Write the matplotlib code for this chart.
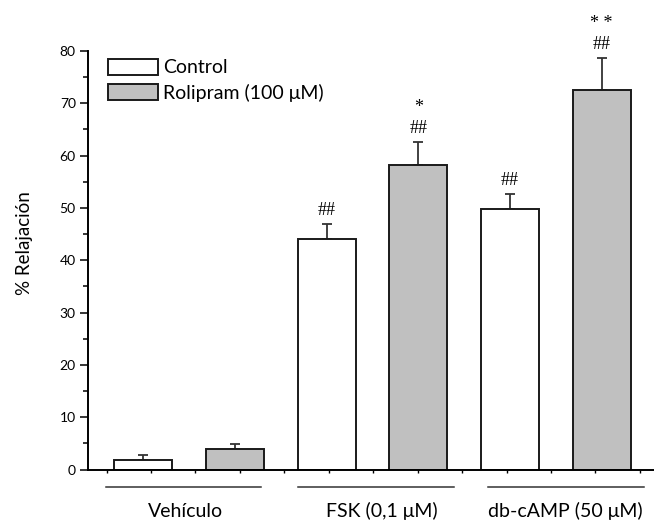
import numpy as np
import matplotlib
matplotlib.use("Agg")
import matplotlib.pyplot as plt
from matplotlib.ticker import MultipleLocator, FixedLocator, NullFormatter

plt.rcParams['font.family'] = ['Lato', 'DejaVu Sans']

# ---------------- data ----------------
groups = ['Vehículo', 'FSK (0,1 μM)', 'db-cAMP (50 μM)']
series = ['Control', 'Rolipram (100 μM)']
control_mean = [1.9, 44.0, 49.8]
control_sem = [0.8, 3.0, 2.9]
rolipram_mean = [4.0, 58.3, 72.5]
rolipram_sem = [0.8, 4.3, 6.2]
control_hash = ['', '##', '##']
rolipram_hash = ['', '##', '##']
rolipram_star = ['', '*', '* *']

# ---------------- figure ----------------
fig = plt.figure(figsize=(6.54, 5.24), dpi=100)
ax = fig.add_axes([0.135, 0.104, 0.865, 0.7987])

x_ctrl = np.arange(len(groups)) * 2
x_roli = x_ctrl + 1
w = 0.63
edge = '#1a1a1a'

ax.bar(x_ctrl, control_mean, width=w, color='white', edgecolor=edge,
       linewidth=1.4, label=series[0], zorder=2)
ax.bar(x_roli, rolipram_mean, width=w, color='#c0c0c0', edgecolor=edge,
       linewidth=1.4, label=series[1], zorder=2)

zeros = np.zeros(len(groups))
ax.errorbar(x_ctrl, control_mean, yerr=[zeros, control_sem], fmt='none',
            ecolor='#333333', elinewidth=1.3, capsize=3.3, capthick=1.3, zorder=1)
ax.errorbar(x_roli, rolipram_mean, yerr=[zeros, rolipram_sem], fmt='none',
            ecolor='#333333', elinewidth=1.3, capsize=3.3, capthick=1.3, zorder=1)

# significance marks
mark_font = dict(family='Liberation Serif', fontsize=13)
for xi, m, s, h in zip(x_ctrl, control_mean, control_sem, control_hash):
    if h:
        ax.annotate(h, (xi, m + s), xytext=(0, 9.4), textcoords='offset points',
                    ha='center', va='center', **mark_font)
for xi, m, s, h, st in zip(x_roli, rolipram_mean, rolipram_sem, rolipram_hash, rolipram_star):
    if h:
        ax.annotate(h, (xi, m + s), xytext=(0, 9.4), textcoords='offset points',
                    ha='center', va='center', **mark_font)
    if st:
        ax.annotate(st, (xi, m + s), xytext=(0, 24.5), textcoords='offset points',
                    ha='center', va='center', **mark_font)

# axes
ax.set_ylim(0, 80)
ax.set_xlim(-0.6, 5.57)
ax.spines['top'].set_visible(False)
ax.spines['right'].set_visible(False)
ax.spines['left'].set_linewidth(1.4)
ax.spines['bottom'].set_linewidth(1.4)

ax.yaxis.set_major_locator(MultipleLocator(10))
ax.yaxis.set_minor_locator(MultipleLocator(5))
ax.tick_params(axis='y', which='major', direction='out', length=6, width=1.1,
               labelsize=10, pad=3)
ax.tick_params(axis='y', which='minor', direction='out', length=3.5, width=1.1)

ax.xaxis.set_major_locator(FixedLocator(np.arange(-0.4, 5.6, 0.4846)))
ax.xaxis.set_major_formatter(NullFormatter())
ax.tick_params(axis='x', which='major', direction='out', length=2, width=1.0)

ax.set_ylabel('% Relajación', fontsize=13.5)
ax.yaxis.set_label_coords(-0.098, 0.541)

# group lines and labels under the axis
trans = ax.get_xaxis_transform()
line_span = [(-0.412, 1.286), (1.687, 3.394), (3.759, 5.46)]
label_x = [0.455, 2.603, 4.604]
for (a, b), lx, g in zip(line_span, label_x, groups):
    ax.plot([a, b], [-0.042, -0.042], color='#333333', lw=1.1,
            transform=trans, clip_on=False)
    ax.text(lx, -0.10, g, transform=trans, ha='center', va='center', fontsize=14)

leg = ax.legend(loc='upper left', bbox_to_anchor=(0.0348, 0.982), frameon=False,
                fontsize=14, handlelength=2.55, handleheight=0.9,
                handletextpad=0.3, labelspacing=0.38, borderpad=0,
                borderaxespad=0)

fig.savefig('out.png', dpi=100)
